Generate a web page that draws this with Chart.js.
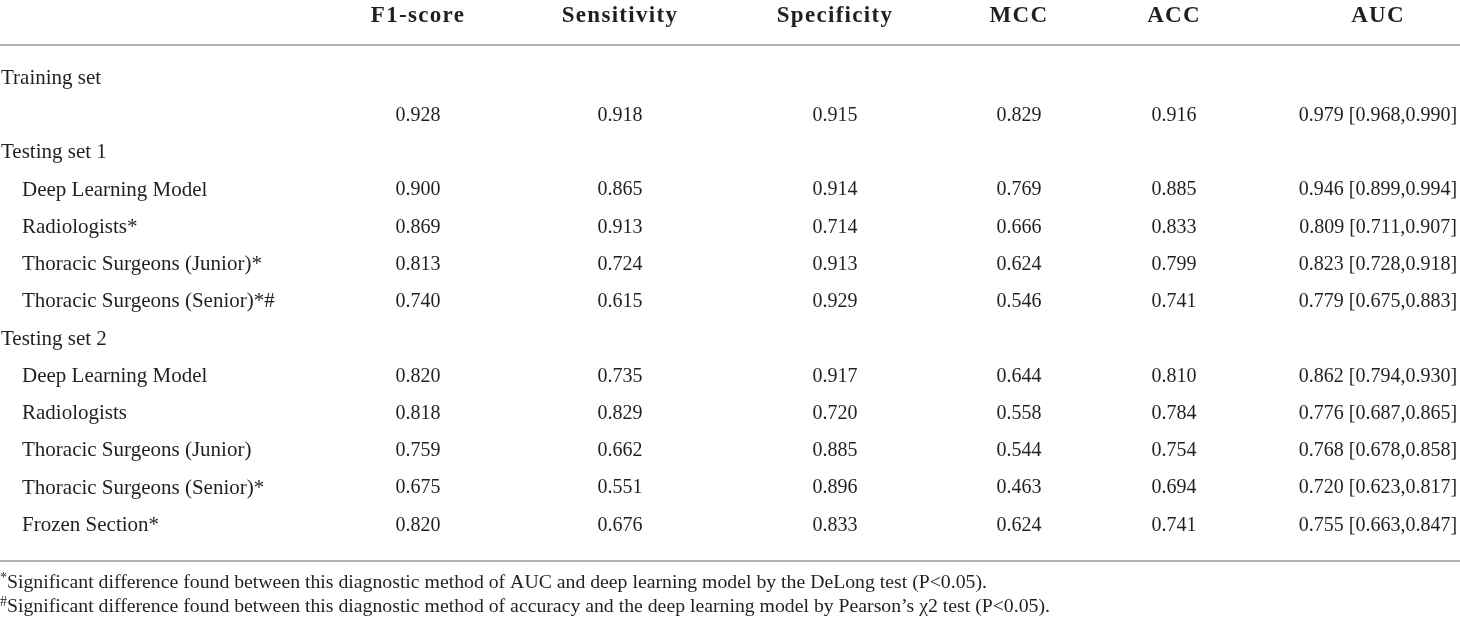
<!DOCTYPE html>
<html lang="en">
<head>
  <meta charset="UTF-8">
  <title>Diagnostic performance</title>
  <script src="https://cdn.jsdelivr.net/npm/chart.js"></script>
  <style>
    html, body { margin: 0; padding: 0; background: #ffffff; }
    #wrap { width: 1460px; height: 620px; position: relative; }
  </style>
</head>
<body>
  <div id="wrap"><canvas id="tableChart"></canvas></div>

  <script>
    // column headers
    var metrics = ['F1-score', 'Sensitivity', 'Specificity', 'MCC', 'ACC', 'AUC'];

    // row groups and the methods under them
    var groups = ['Training set', 'Testing set 1', 'Testing set 2'];
    var methods = [
      '',
      'Deep Learning Model',
      'Radiologists*',
      'Thoracic Surgeons (Junior)*',
      'Thoracic Surgeons (Senior)*#',
      'Deep Learning Model',
      'Radiologists',
      'Thoracic Surgeons (Junior)',
      'Thoracic Surgeons (Senior)*',
      'Frozen Section*'
    ];
    var methodGroup = [0, 1, 1, 1, 1, 2, 2, 2, 2, 2];

    // values, one entry per method
    var f1Score     = [0.928, 0.900, 0.869, 0.813, 0.740, 0.820, 0.818, 0.759, 0.675, 0.820];
    var sensitivity = [0.918, 0.865, 0.913, 0.724, 0.615, 0.735, 0.829, 0.662, 0.551, 0.676];
    var specificity = [0.915, 0.914, 0.714, 0.913, 0.929, 0.917, 0.720, 0.885, 0.896, 0.833];
    var mcc         = [0.829, 0.769, 0.666, 0.624, 0.546, 0.644, 0.558, 0.544, 0.463, 0.624];
    var acc         = [0.916, 0.885, 0.833, 0.799, 0.741, 0.810, 0.784, 0.754, 0.694, 0.741];
    var auc         = [0.979, 0.946, 0.809, 0.823, 0.779, 0.862, 0.776, 0.768, 0.720, 0.755];
    var aucLower    = [0.968, 0.899, 0.711, 0.728, 0.675, 0.794, 0.687, 0.678, 0.623, 0.663];
    var aucUpper    = [0.990, 0.994, 0.907, 0.918, 0.883, 0.930, 0.865, 0.858, 0.817, 0.847];

    var footnotes = [
      ['*', 'Significant difference found between this diagnostic method of AUC and deep learning model by the DeLong test (P<0.05).'],
      ['#', 'Significant difference found between this diagnostic method of accuracy and the deep learning model by Pearson\u2019s \u03c72 test (P<0.05).']
    ];

    // layout only: where each column sits across the table width
    var colCenters = [418, 620, 835, 1019, 1174, 1378];
    var groupX = 1;
    var indentX = 22;

    var textColor = '#231f20';
    var ruleColor = '#b4b4b4';
    var labelFont = '21px "Liberation Serif", "Times New Roman", serif';
    var valueFont = '20px "Liberation Serif", "Times New Roman", serif';

    // work out which row every method lands on
    var rowLabels = [];
    var rowOf = [];
    var lastGroup = -1;
    methods.forEach(function (m, i) {
      if (methodGroup[i] !== lastGroup) {
        lastGroup = methodGroup[i];
        rowLabels.push({ text: groups[lastGroup], indent: false });
      }
      rowOf.push(rowLabels.length);
      rowLabels.push({ text: m, indent: true });
    });

    var valueSeries = [f1Score, sensitivity, specificity, mcc, acc, auc];

    var datasets = valueSeries.map(function (series, c) {
      return {
        label: metrics[c],
        data: series.map(function (v, i) {
          return { x: colCenters[c], y: rowOf[i], v: v, i: i };
        }),
        pointRadius: 0,
        pointHoverRadius: 0
      };
    });

    function cellText(c, item) {
      var txt = item.v.toFixed(3);
      if (c === valueSeries.length - 1) {
        txt += ' [' + aucLower[item.i].toFixed(3) + ',' + aucUpper[item.i].toFixed(3) + ']';
      }
      return txt;
    }

    var tablePlugin = {
      id: 'tableText',
      beforeDraw: function (chart) {
        // the header face is wider than Liberation Serif Bold, spread it a little
        chart.ctx.letterSpacing = '1.3px';
      },
      afterDatasetsDraw: function (chart) {
        var ctx = chart.ctx;
        var yScale = chart.scales.y;
        var area = chart.chartArea;
        ctx.save();
        ctx.letterSpacing = '0px';
        ctx.fillStyle = textColor;
        ctx.textBaseline = 'middle';

        // row labels
        ctx.font = labelFont;
        ctx.textAlign = 'left';
        rowLabels.forEach(function (r, row) {
          if (!r.text) return;
          ctx.fillText(r.text, r.indent ? indentX : groupX, yScale.getPixelForValue(row));
        });

        // cells
        ctx.font = valueFont;
        ctx.textAlign = 'center';
        chart.data.datasets.forEach(function (ds, c) {
          var meta = chart.getDatasetMeta(c);
          meta.data.forEach(function (pt, k) {
            ctx.fillText(cellText(c, ds.data[k]), pt.x, pt.y);
          });
        });

        // bottom rule
        ctx.strokeStyle = ruleColor;
        ctx.lineWidth = 2;
        ctx.beginPath();
        ctx.moveTo(area.left, area.bottom);
        ctx.lineTo(area.right, area.bottom);
        ctx.stroke();

        // footnotes
        ctx.textAlign = 'left';
        footnotes.forEach(function (f, n) {
          var y = area.bottom + 22 + n * 24;
          ctx.font = '14px "Liberation Serif", serif';
          ctx.fillText(f[0], 0, y - 5);
          var w = ctx.measureText(f[0]).width;
          ctx.font = '19.75px "Liberation Serif", serif';
          ctx.fillText(f[1], w, y);
        });
        ctx.restore();
        ctx.letterSpacing = '0px';
      }
    };

    var ctx = document.getElementById('tableChart').getContext('2d');
    var tableChart = new Chart(ctx, {
      type: 'scatter',
      data: { datasets: datasets },
      options: {
        responsive: true,
        maintainAspectRatio: false,
        animation: false,
        events: [],
        layout: { padding: { left: 0, right: 0, top: 0, bottom: 59 } },
        plugins: {
          legend: { display: false },
          tooltip: { enabled: false }
        },
        scales: {
          x: {
            type: 'linear',
            position: 'top',
            min: 0,
            max: 1460,
            afterBuildTicks: function (scale) {
              scale.ticks = colCenters.map(function (v) { return { value: v }; });
            },
            afterFit: function (scale) { scale.height = 45; },
            ticks: {
              autoSkip: false,
              maxRotation: 0,
              padding: 15,
              color: textColor,
              font: { family: '"Liberation Serif", serif', size: 23, weight: 'bold' },
              callback: function (value, index) { return metrics[index]; }
            },
            grid: { display: false, drawTicks: false },
            border: { display: true, color: ruleColor, width: 2 }
          },
          y: {
            type: 'linear',
            display: false,
            reverse: true,
            min: -0.9,
            max: 12.96
          }
        }
      },
      plugins: [tablePlugin]
    });
  </script>
</body>
</html>
